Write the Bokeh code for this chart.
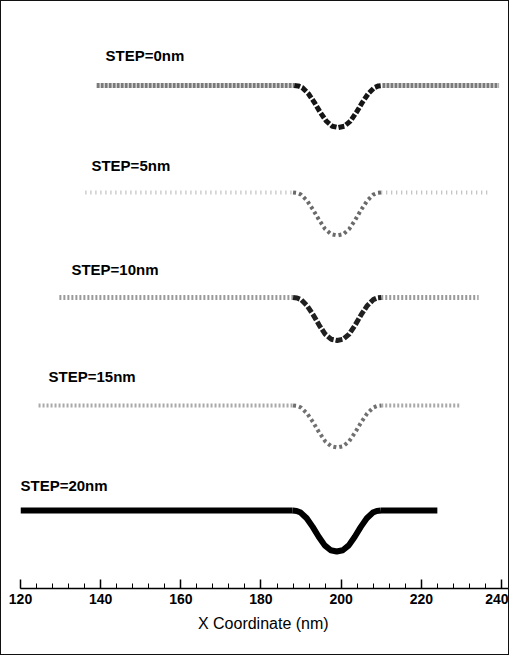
from bokeh.plotting import figure
from bokeh.models import Range1d, SingleIntervalTicker, ColumnDataSource
from bokeh.core.properties import value
from bokeh.embed import file_html
from bokeh.resources import INLINE

# ---- data ----
steps = ["STEP=0nm", "STEP=5nm", "STEP=10nm", "STEP=15nm", "STEP=20nm"]
scan_start = [139.0, 136.2, 129.7, 124.5, 120.0]      # nm
scan_end = [239.4, 236.8, 234.3, 229.8, 224.0]        # nm
dip_center = [199.3, 199.0, 199.0, 199.0, 198.9]      # nm
baseline = [503, 396, 291, 183, 78]                   # vertical offset of each profile
dip_depth = [42, 43, 43, 42, 41]
# shared dip shape: offset from centre (nm) and relative depth
dip_dx = [-11, -10, -9, -7.5, -6, -4.5, -3, -1.5, 0, 1.5, 3, 4.5, 6, 7.5, 9, 10, 11]
dip_frac = [0, 0.01, 0.05, 0.19, 0.4, 0.64, 0.85, 0.97, 1.0, 0.97, 0.85, 0.64, 0.4, 0.19, 0.05, 0.01, 0]
label_x = [141.2, 137.7, 132.7, 127.0, 120.0]
label_y = [533, 423, 319, 212, 103]

# ---- styles ----
flat_colors = ["#7a7a7a", "#b4b4b4", "#9a9a9a", "#aaaaaa", "#000000"]
flat_dashes = ["3 1", "1 4", "2 2", "2 2", "solid"]
dip_colors = ["#151515", "#6a6a6a", "#202020", "#707070", "#000000"]
dip_dashes = ["6 2", "3 3", "7 2", "3 3", "solid"]
widths = [5, 4, 5, 4, 6]

W, H = 509, 655
p = figure(width=W, height=H, output_backend="svg", toolbar_location=None,
           x_range=Range1d(120, 242.25), y_range=Range1d(0, 587),
           y_axis_location=None, min_border_left=19, min_border_right=0,
           min_border_top=0, min_border_bottom=68)
p.styles = {"border": "1.5px solid #111", "box-sizing": "border-box"}
p.outline_line_color = None
p.xgrid.visible = False
p.ygrid.visible = False
p.background_fill_color = "white"
p.border_fill_color = "white"

for i in range(len(steps)):
    c = dip_center[i]
    b = baseline[i]
    left = ColumnDataSource(dict(x=[scan_start[i], c + dip_dx[0]], y=[b, b]))
    right = ColumnDataSource(dict(x=[c + dip_dx[-1], scan_end[i]], y=[b, b]))
    dip = ColumnDataSource(dict(x=[c + d for d in dip_dx],
                                y=[b - dip_depth[i] * f for f in dip_frac]))
    for s in (left, right):
        p.line("x", "y", source=s, line_color=flat_colors[i], line_width=widths[i],
               line_dash=flat_dashes[i], line_cap="butt")
    p.line("x", "y", source=dip, line_color=dip_colors[i], line_width=widths[i],
           line_dash=dip_dashes[i], line_join="round", line_cap="butt")

lsrc = ColumnDataSource(dict(x=label_x, y=label_y, t=steps))
p.text("x", "y", text="t", source=lsrc, text_font=value("Liberation Sans"),
       text_font_style="bold", text_font_size="15px", text_color="black",
       text_baseline="middle", text_align="left")

ax = p.xaxis[0]
ax.ticker = SingleIntervalTicker(interval=20, num_minor_ticks=5)
ax.axis_line_color = "black"
ax.axis_line_width = 1.5
ax.major_tick_in = 9
ax.major_tick_out = 0
ax.minor_tick_in = 5
ax.minor_tick_out = 0
ax.major_tick_line_color = "black"
ax.minor_tick_line_color = "black"
ax.major_tick_line_width = 1.5
ax.minor_tick_line_width = 1
ax.major_label_text_font = "Liberation Sans"
ax.major_label_text_font_style = "bold"
ax.major_label_text_font_size = "14px"
ax.major_label_text_color = "black"
ax.major_label_standoff = 5
ax.axis_label = "X Coordinate  (nm)"
ax.axis_label_text_font = "Liberation Sans"
ax.axis_label_text_font_style = "normal"
ax.axis_label_text_font_size = "16px"
ax.axis_label_text_color = "black"
ax.axis_label_standoff = 8

open("out.html", "w").write(file_html(p, INLINE))
